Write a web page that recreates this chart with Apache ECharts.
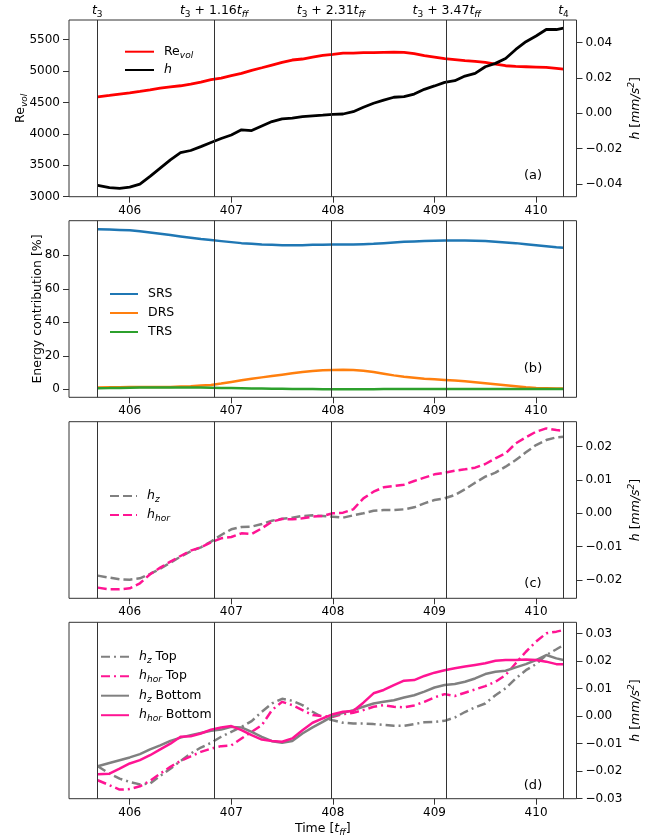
<!DOCTYPE html>
<html><head><meta charset="utf-8">
<script src="https://cdn.jsdelivr.net/npm/echarts@6/dist/echarts.min.js"></script>
<style>html,body{margin:0;padding:0;background:#fff}#c{width:657px;height:840px}</style>
</head><body><div id="c"></div>
<script>
// ---------- data ----------
const time = [405.685,405.8,405.9,406.0,406.1,406.2,406.3,406.4,406.5,406.6,406.7,406.8,406.9,407.0,407.1,407.2,407.3,407.4,407.5,407.6,407.7,407.8,407.9,408.0,408.1,408.2,408.3,408.4,408.5,408.6,408.7,408.8,408.9,409.0,409.1,409.2,409.3,409.4,409.5,409.6,409.7,409.8,409.9,410.0,410.1,410.2,410.27];
const reVol = [4590,4612,4633,4654,4676,4702,4729,4750,4766,4793,4824,4862,4888,4926,4963,5011,5053,5096,5138,5176,5192,5223,5250,5266,5287,5287,5293,5293,5298,5303,5298,5277,5245,5223,5197,5181,5165,5154,5138,5112,5085,5074,5069,5064,5058,5043,5032];
const hTotal = [-0.0409,-0.0421,-0.0426,-0.0419,-0.0402,-0.0358,-0.0311,-0.0264,-0.0223,-0.0211,-0.0189,-0.0166,-0.0143,-0.0123,-0.0094,-0.0098,-0.0072,-0.0047,-0.0032,-0.0028,-0.0019,-0.0015,-0.0011,-0.0006,-0.0004,0.0009,0.0034,0.0057,0.0075,0.0091,0.0094,0.0109,0.0136,0.0155,0.0175,0.0185,0.0211,0.0226,0.0264,0.0283,0.0311,0.0362,0.0406,0.0438,0.0475,0.0475,0.0483];
const srs = [95.6,95.4,95.2,95.0,94.4,93.7,92.9,92.1,91.3,90.5,89.7,89.1,88.5,87.9,87.3,86.9,86.5,86.3,86.1,86.1,86.1,86.3,86.3,86.5,86.5,86.5,86.7,86.9,87.3,87.7,88.1,88.3,88.5,88.7,88.9,88.9,88.9,88.7,88.5,88.1,87.7,87.3,86.7,86.1,85.5,84.9,84.5];
const drs = [1.0,1.2,1.2,1.4,1.4,1.4,1.4,1.4,1.6,1.8,2.2,2.6,3.4,4.4,5.4,6.3,7.1,7.9,8.7,9.5,10.3,10.9,11.3,11.5,11.7,11.5,11.1,10.3,9.3,8.3,7.5,6.9,6.3,6.0,5.6,5.2,4.8,4.2,3.6,3.0,2.4,1.8,1.2,0.8,0.6,0.4,0.4];
const trs = [0.6,0.7,0.8,0.9,1.0,1.0,1.1,1.1,1.1,1.0,1.0,0.9,0.8,0.7,0.6,0.5,0.4,0.3,0.3,0.2,0.1,0.1,0.0,0.0,0.0,0.0,0.0,0.0,0.1,0.1,0.1,0.1,0.1,0.1,0.1,0.1,0.1,0.1,0.1,0.1,0.1,0.1,0.1,0.1,0.1,0.1,0.1];
const hz = [-0.0187,-0.0193,-0.0198,-0.0199,-0.0195,-0.0182,-0.0166,-0.0148,-0.0130,-0.0114,-0.0102,-0.0085,-0.0065,-0.0048,-0.0041,-0.0040,-0.0032,-0.0022,-0.0016,-0.0013,-0.0008,-0.0006,-0.0008,-0.0010,-0.0013,-0.0006,0.0000,0.0008,0.0010,0.0010,0.0012,0.0018,0.0030,0.0040,0.0045,0.0055,0.0072,0.0092,0.0110,0.0122,0.0140,0.0160,0.0183,0.0205,0.0220,0.0228,0.0230];
const hhor = [-0.0223,-0.0228,-0.0228,-0.0225,-0.0210,-0.0183,-0.0163,-0.0145,-0.0128,-0.0112,-0.0102,-0.0087,-0.0075,-0.0071,-0.0060,-0.0062,-0.0045,-0.0025,-0.0017,-0.0018,-0.0015,-0.0010,-0.0008,0.0000,0.0002,0.0012,0.0045,0.0065,0.0078,0.0082,0.0086,0.0097,0.0107,0.0117,0.0122,0.0128,0.0132,0.0137,0.0148,0.0165,0.0180,0.0210,0.0228,0.0245,0.0255,0.0250,0.0248];
const hzTop = [-0.0182,-0.0209,-0.0227,-0.0239,-0.0248,-0.0245,-0.0217,-0.0191,-0.0163,-0.0136,-0.0114,-0.0097,-0.0075,-0.0057,-0.0039,-0.0018,0.0016,0.0046,0.0063,0.0056,0.0040,0.0016,-0.0005,-0.0015,-0.0024,-0.0027,-0.0027,-0.0029,-0.0032,-0.0035,-0.0035,-0.0029,-0.0022,-0.0021,-0.0017,-0.0005,0.0015,0.0032,0.0046,0.0076,0.0101,0.0137,0.0167,0.0189,0.0222,0.0243,0.0258];
const hhorTop = [-0.0233,-0.0251,-0.0267,-0.0265,-0.0255,-0.0235,-0.0209,-0.0184,-0.0163,-0.0146,-0.0130,-0.0118,-0.0109,-0.0106,-0.0081,-0.0057,-0.0033,0.0022,0.0052,0.0040,0.0022,0.0004,0.0000,-0.0002,0.0007,0.0012,0.0022,0.0034,0.0040,0.0034,0.0032,0.0039,0.0052,0.0068,0.0080,0.0073,0.0085,0.0097,0.0109,0.0125,0.0149,0.0192,0.0234,0.0271,0.0301,0.0307,0.0313];
const hzBot = [-0.0182,-0.0170,-0.0160,-0.0150,-0.0138,-0.0121,-0.0106,-0.0090,-0.0078,-0.0069,-0.0061,-0.0053,-0.0049,-0.0039,-0.0041,-0.0057,-0.0075,-0.0091,-0.0097,-0.0090,-0.0063,-0.0041,-0.0021,0.0000,0.0012,0.0022,0.0034,0.0046,0.0052,0.0058,0.0068,0.0076,0.0089,0.0104,0.0113,0.0117,0.0125,0.0137,0.0153,0.0161,0.0165,0.0177,0.0189,0.0204,0.0222,0.0210,0.0204];
const hhorBot = [-0.0211,-0.0209,-0.0191,-0.0172,-0.0160,-0.0142,-0.0121,-0.0100,-0.0075,-0.0073,-0.0063,-0.0049,-0.0041,-0.0036,-0.0051,-0.0069,-0.0085,-0.0090,-0.0093,-0.0081,-0.0051,-0.0024,-0.0008,0.0007,0.0016,0.0019,0.0049,0.0083,0.0095,0.0113,0.0129,0.0131,0.0146,0.0158,0.0167,0.0174,0.0180,0.0186,0.0192,0.0201,0.0204,0.0204,0.0206,0.0204,0.0198,0.0189,0.0189];

const xTicks = [406,407,408,409,410];
const reTicks = [3000,3500,4000,4500,5000,5500];
const hTicksA = [-0.04,-0.02,0,0.02,0.04];
const energyTicks = [0,20,40,60,80];
const hTicksC = [-0.02,-0.01,0,0.01,0.02];
const hTicksD = [-0.03,-0.02,-0.01,0,0.01,0.02,0.03];
const tMarks = [405.683,406.826,407.975,409.118,410.271];
const tMarkLabels = ['{i|t}{sub|3}','{i|t}{sub|3}{n| + 1.16}{i|t}{subi|ff}','{i|t}{sub|3}{n| + 2.31}{i|t}{subi|ff}','{i|t}{sub|3}{n| + 3.47}{i|t}{subi|ff}','{i|t}{sub|4}'];
const panelLabels = ['(a)','(b)','(c)','(d)'];
const legendNames = {
  'Re_vol':'{n|Re}{subi|vol}', 'h':'{i|h}',
  'SRS':'{n|SRS}','DRS':'{n|DRS}','TRS':'{n|TRS}',
  'h_z':'{i|h}{subi|z}','h_hor':'{i|h}{subi|hor}',
  'h_z Top':'{i|h}{subi|z}{n| Top}','h_hor Top':'{i|h}{subi|hor}{n| Top}',
  'h_z Bottom':'{i|h}{subi|z}{n| Bottom}','h_hor Bottom':'{i|h}{subi|hor}{n| Bottom}'
};

// ---------- layout / style ----------
const F = 'DejaVu Sans';
const XMIN = 405.402, XMAX = 410.398;
const grids = [
  {left:69, width:507.5, top:20, height:176.7},
  {left:69, width:507.5, top:220.7, height:176.6},
  {left:69, width:507.5, top:421.7, height:176.6},
  {left:69, width:507.5, top:622.3, height:176.4}
];
function mkRich(size){
  const lh = Math.round(size*1.3);
  const s = Math.round(size*0.72);
  return {
    n:{fontFamily:F,fontSize:size,lineHeight:lh,color:'#000'},
    i:{fontFamily:F,fontSize:size,fontStyle:'italic',lineHeight:lh,color:'#000'},
    sub:{fontFamily:F,fontSize:s,lineHeight:s+1,verticalAlign:'bottom',color:'#000'},
    subi:{fontFamily:F,fontSize:s,fontStyle:'italic',lineHeight:s+1,verticalAlign:'bottom',color:'#000'},
    sup:{fontFamily:F,fontSize:s,fontStyle:'italic',lineHeight:s+1,verticalAlign:'top',color:'#000'}
  };
}
const hName = '{i|h}{n| [}{i|mm/s}{sup|2}{n|]}';
function fmt2(v){ return (v < -1e-9 ? '\u2212' : '') + Math.abs(v).toFixed(2); }

function xAxis(i){
  const a = {
    type:'value', gridIndex:i, min:XMIN, max:XMAX, position:'bottom',
    axisLine:{show:false, onZero:false}, splitLine:{show:false},
    axisTick:{show:true, length:6, customValues:xTicks, lineStyle:{color:'#333',width:1}},
    axisLabel:{customValues:xTicks, margin:8, fontFamily:F, fontSize:12, color:'#000'}
  };
  if(i===3){
    a.name='{n|Time [}{i|t}{subi|ff}{n|]}';
    a.nameLocation='middle'; a.nameGap=22; a.nameMoveOverlap=false;
    a.nameTextStyle={rich:mkRich(12.5)};
  }
  return a;
}
function yAxis(gi, pos, min, max, ticks, fmt, name, gap){
  const a = {
    type:'value', gridIndex:gi, position:pos, min:min, max:max,
    axisLine:{show:false, onZero:false}, splitLine:{show:false},
    axisTick:{show:true, length:6, customValues:ticks, lineStyle:{color:'#333',width:1}},
    axisLabel:{customValues:ticks, margin:9, fontFamily:F, fontSize:12, color:'#000', formatter:fmt}
  };
  if(name){
    a.name=name; a.nameLocation='middle'; a.nameRotate=90; a.nameGap=gap; a.nameMoveOverlap=false;
    a.nameTextStyle={rich:mkRich(12.5)};
  }
  return a;
}
function pairs(vals){ return time.map((t,i)=>[t, vals[i]]); }
function markLines(showLabel){
  return {
    silent:true, symbol:['none','none'], animation:false,
    lineStyle:{color:'#333', width:1, type:'solid'},
    emphasis:{disabled:true},
    label:{show:showLabel, position:'end', distance:1, rich:mkRich(12.5)},
    data: tMarks.map((t,i)=>({xAxis:t, label:{formatter:tMarkLabels[i]}}))
  };
}
function line(name, xi, yi, vals, color, width, type, ml){
  const s = {
    name:name, type:'line', xAxisIndex:xi, yAxisIndex:yi, data:pairs(vals),
    symbol:'none', showSymbol:false, smooth:false, color:color,
    lineStyle:{color:color, width:width, type:type||'solid'},
    emphasis:{disabled:true}, z:3
  };
  if(ml) s.markLine = ml;
  return s;
}
function legend(names, left, top, iw, gap){
  return {
    data:names, orient:'vertical', left:left, top:top, padding:0, itemWidth:iw, itemHeight:14, itemGap:gap,
    selectedMode:false,
    itemStyle:{opacity:0, borderWidth:0},
    formatter:n=>legendNames[n],
    textStyle:{fontFamily:F, fontSize:12.5, lineHeight:16, padding:[0,0,0,5], rich:mkRich(12.5)}
  };
}
const dash = [9,4];
const dashDot = [9,4,2,4];

const option = {
  animation:false,
  backgroundColor:'#fff',
  grid: grids.map(g=>Object.assign({show:true, borderColor:'#333', borderWidth:1, backgroundColor:'transparent'}, g)),
  xAxis:[xAxis(0),xAxis(1),xAxis(2),xAxis(3)],
  yAxis:[
    yAxis(0,'left',3000,5813,reTicks,v=>String(v),'{n|Re}{subi|vol}',40),
    yAxis(0,'right',-0.0473,0.0529,hTicksA,fmt2,hName,51),
    yAxis(1,'left',-4.8,100.7,energyTicks,v=>String(v),'{n|Energy contribution [%]}',23),
    yAxis(2,'right',-0.0255,0.0275,hTicksC,fmt2,hName,51),
    yAxis(3,'right',-0.03,0.0341,hTicksD,fmt2,hName,51)
  ],
  legend:[
    legend(['Re_vol','h'],124,43.7,29,2.3),
    legend(['SRS','DRS','TRS'],109,286,28,3),
    legend(['h_z','h_hor'],109,488,27,3),
    legend(['h_z Top','h_hor Top','h_z Bottom','h_hor Bottom'],100,648.7,28,3.5)
  ],
  series:[
    line('Re_vol',0,0,reVol,'#ff0000',2.8,'solid',markLines(true)),
    line('h',0,1,hTotal,'#000000',2.8),
    line('SRS',1,2,srs,'#1f77b4',2.5,'solid',markLines(false)),
    line('DRS',1,2,drs,'#ff7f0e',2.5),
    line('TRS',1,2,trs,'#2ca02c',2.5),
    line('h_z',2,3,hz,'#808080',2.5,dash,markLines(false)),
    line('h_hor',2,3,hhor,'#ff1493',2.5,dash),
    line('h_z Top',3,4,hzTop,'#808080',2.5,dashDot,markLines(false)),
    line('h_hor Top',3,4,hhorTop,'#ff1493',2.5,dashDot),
    line('h_z Bottom',3,4,hzBot,'#808080',2.5),
    line('h_hor Bottom',3,4,hhorBot,'#ff1493',2.5)
  ],
  graphic: panelLabels.map((t,i)=>({
    type:'text', x:533, y:[176,369,584,786][i], silent:true,
    style:{text:t, fontFamily:F, fontSize:13, fill:'#000', align:'center', verticalAlign:'middle', textAlign:'center', textVerticalAlign:'middle'}
  }))
};
const chart = echarts.init(document.getElementById('c'), null, {renderer:'canvas'});
chart.setOption(option);
</script>
</body></html>
